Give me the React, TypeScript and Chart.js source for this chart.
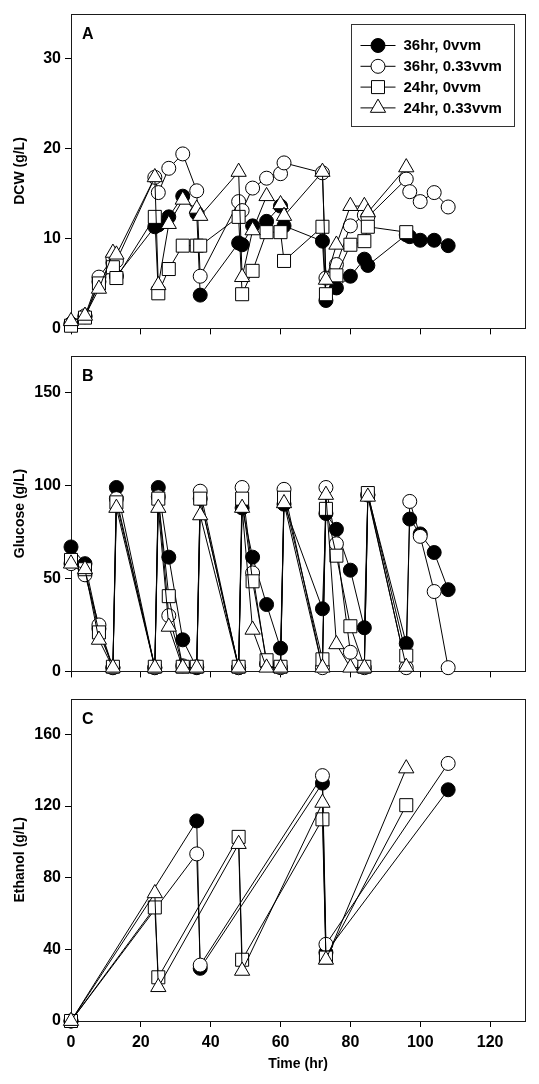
import React, { useEffect, useRef } from 'react';
import { Chart, registerables } from 'chart.js';

Chart.register(...registerables);

// ---------------- DATA ----------------
const seriesLabels = ['36hr, 0vvm', '36hr, 0.33vvm', '24hr, 0vvm', '24hr, 0.33vvm'];

const xTicks = [0, 20, 40, 60, 80, 100, 120];
const yTicksDCW = [0, 10, 20, 30];
const yTicksGlucose = [0, 50, 100, 150];
const yTicksEthanol = [0, 40, 80, 120, 160];

// sampling times (hr)
const time36 = [0, 4, 8, 12, 13, 24, 25, 28, 32, 36, 37, 48, 49, 52, 56, 60, 61, 72, 73, 76, 80, 84, 85, 96, 97, 100, 104, 108];
const time24 = [0, 4, 8, 12, 13, 24, 25, 28, 32, 36, 37, 48, 49, 52, 56, 60, 61, 72, 73, 76, 80, 84, 85, 96];
const timeEth36 = [0, 36, 37, 72, 73, 108];
const timeEth24 = [0, 24, 25, 48, 49, 72, 73, 96];

// A: DCW (g/L)
const dcw36hr0 = [0.5, 1.3, 5.2, 7.3, 5.8, 11.3, 11.5, 12.4, 14.7, 12.8, 3.7, 9.5, 9.3, 11.4, 11.9, 13.6, 11.4, 9.7, 3.1, 4.5, 5.8, 7.7, 7.0, 10.4, 10.2, 9.8, 9.8, 9.2];
const dcw36hr033 = [0.5, 1.4, 5.7, 7.8, 7.5, 16.8, 15.1, 17.8, 19.4, 15.3, 5.8, 14.1, 13.1, 15.6, 16.7, 17.2, 18.4, 17.3, 5.6, 7.1, 11.4, 12.6, 12.4, 16.6, 15.2, 14.1, 15.1, 13.5];
const dcw24hr0 = [0.3, 1.2, 5.0, 6.8, 5.6, 12.4, 3.9, 6.6, 9.2, 9.2, 9.2, 12.4, 3.8, 6.4, 10.7, 10.7, 7.5, 11.3, 3.8, 5.9, 9.3, 9.7, 11.3, 10.7];
const dcw24hr033 = [0.8, 1.4, 4.4, 8.4, 8.2, 16.8, 4.8, 11.6, 14.3, 13.3, 12.5, 17.4, 5.7, 10.9, 14.7, 13.8, 12.5, 17.4, 5.4, 9.3, 13.6, 13.6, 12.9, 17.9];

// B: Glucose (g/L)
const glu36hr0 = [67, 58, 23, 2, 99, 2, 99, 61.5, 17, 2, 93, 2, 88, 61.5, 36, 12.5, 90, 33.7, 85, 76.5, 54.5, 23.5, 95, 15, 82, 74, 64, 44];
const glu36hr033 = [58, 52, 25, 2, 93, 2, 94, 30, 3, 2.5, 97, 2, 99, 53, 4, 2, 98, 2, 99, 68.7, 10.3, 2, 95, 2, 91.5, 72.7, 43, 2];
const glu24hr0 = [60, 55, 21, 2.5, 91, 2.5, 93, 40.5, 2.5, 2.5, 93, 2.5, 93, 48.5, 6, 2.5, 93.5, 6.5, 87.5, 62.3, 24.3, 2.5, 96, 8.5];
const glu24hr033 = [58, 55, 17, 2, 88, 2, 88, 24, 2, 2, 84, 2, 88, 22.4, 2, 2, 90.5, 2, 95, 14.6, 2, 2, 94, 2.4];

// C: Ethanol (g/L)
const eth36hr0 = [0, 111.7, 29.4, 132.8, 38.2, 129.1];
const eth36hr033 = [0, 93.3, 31.2, 137, 42.8, 143.8];
const eth24hr0 = [0, 63.4, 24.4, 102.8, 34.2, 112.6, 35.4, 120.5];
const eth24hr033 = [0, 71.3, 18.9, 98.8, 28, 121.8, 34.2, 141];

// ---------------- STYLE ----------------
const FONT = "'Liberation Sans', Arial, Helvetica, sans-serif";
const markerStyles = [
  { pointStyle: 'circle', fill: '#000000', radius: 7 },
  { pointStyle: 'circle', fill: '#ffffff', radius: 7 },
  { pointStyle: 'rect', fill: '#ffffff', radius: 9.2 },
  { pointStyle: 'triangle', fill: '#ffffff', radius: 8.8 },
];

type SeriesData = { t: number[]; v: number[] };
type PanelSpec = {
  letter: string;
  title: string;
  yMax: number;
  yTicks: number[];
  series: SeriesData[];
  top: number;
  height: number;
  padTop: number;
  xHeight: number;
  showX: boolean;
  legend: boolean;
};

const panels: PanelSpec[] = [
  {
    letter: 'A', title: 'DCW (g/L)', yMax: 35, yTicks: yTicksDCW,
    series: [
      { t: time36, v: dcw36hr0 }, { t: time36, v: dcw36hr033 },
      { t: time24, v: dcw24hr0 }, { t: time24, v: dcw24hr033 },
    ],
    top: 0, height: 342, padTop: 8, xHeight: 7, showX: false, legend: true,
  },
  {
    letter: 'B', title: 'Glucose (g/L)', yMax: 170, yTicks: yTicksGlucose,
    series: [
      { t: time36, v: glu36hr0 }, { t: time36, v: glu36hr033 },
      { t: time24, v: glu24hr0 }, { t: time24, v: glu24hr033 },
    ],
    top: 342, height: 343, padTop: 10, xHeight: 7, showX: false, legend: false,
  },
  {
    letter: 'C', title: 'Ethanol (g/L)', yMax: 180, yTicks: yTicksEthanol,
    series: [
      { t: timeEth36, v: eth36hr0 }, { t: timeEth36, v: eth36hr033 },
      { t: timeEth24, v: eth24hr0 }, { t: timeEth24, v: eth24hr033 },
    ],
    top: 685, height: 399, padTop: 9, xHeight: 63, showX: true, legend: false,
  },
];

function drawMarker(ctx: CanvasRenderingContext2D, style: string, x: number, y: number, r: number, fill: string) {
  ctx.beginPath();
  if (style === 'circle') {
    ctx.arc(x, y, r, 0, Math.PI * 2);
  } else if (style === 'rect') {
    const s = Math.SQRT1_2 * r;
    ctx.rect(x - s, y - s, 2 * s, 2 * s);
  } else {
    const a = (2 * Math.PI) / 3;
    ctx.moveTo(x, y - r);
    ctx.lineTo(x + Math.sin(a) * r, y - Math.cos(a) * r);
    ctx.lineTo(x + Math.sin(2 * a) * r, y - Math.cos(2 * a) * r);
  }
  ctx.closePath();
  ctx.fillStyle = fill;
  ctx.fill();
  ctx.lineWidth = 1;
  ctx.strokeStyle = '#000';
  ctx.stroke();
}

function makePanelPlugin(p: PanelSpec) {
  return {
    id: 'panelDecor' + p.letter,
    beforeDatasetsDraw(chart: any) {
      const { ctx, chartArea } = chart;
      ctx.save();
      ctx.strokeStyle = '#1a1a1a';
      ctx.lineWidth = 1;
      const l = Math.round(chartArea.left) + 0.5;
      const t = Math.round(chartArea.top) + 0.5;
      const r = Math.round(chartArea.right) + 0.5;
      const b = Math.round(chartArea.bottom) + 0.5;
      ctx.strokeRect(l, t, r - l, b - t);
      ctx.fillStyle = '#000';
      ctx.font = `bold 16px ${FONT}`;
      ctx.textBaseline = 'middle';
      ctx.textAlign = 'left';
      ctx.fillText(p.letter, chartArea.left + 11, chartArea.top + 21);
      ctx.restore();
    },
    afterDatasetsDraw(chart: any) {
      if (!p.legend) return;
      const { ctx, chartArea } = chart;
      ctx.save();
      const bx = Math.round(chartArea.right - 174) + 0.5;
      const by = Math.round(chartArea.top + 10) + 0.5;
      const bw = 163;
      const bh = 102;
      ctx.fillStyle = '#fff';
      ctx.fillRect(bx, by, bw, bh);
      ctx.strokeStyle = '#333';
      ctx.lineWidth = 1;
      ctx.strokeRect(bx, by, bw, bh);
      seriesLabels.forEach((label, i) => {
        const y = by + 21 + i * 20.8;
        ctx.beginPath();
        ctx.moveTo(bx + 9, y);
        ctx.lineTo(bx + 44, y);
        ctx.strokeStyle = '#000';
        ctx.lineWidth = 1;
        ctx.stroke();
        const m = markerStyles[i];
        drawMarker(ctx, m.pointStyle, bx + 26.5, y, m.radius, m.fill);
        ctx.fillStyle = '#000';
        ctx.font = `bold 15px ${FONT}`;
        ctx.textBaseline = 'middle';
        ctx.textAlign = 'left';
        ctx.fillText(label, bx + 52, y + 0.5);
      });
      ctx.restore();
    },
  };
}

function buildConfig(p: PanelSpec): any {
  return {
    type: 'scatter',
    data: {
      datasets: p.series.map((s, i) => ({
        label: seriesLabels[i],
        data: s.t.map((t, k) => ({ x: t, y: s.v[k] })),
        showLine: true,
        borderColor: '#000',
        borderWidth: 1,
        backgroundColor: markerStyles[i].fill,
        pointStyle: markerStyles[i].pointStyle,
        pointRadius: markerStyles[i].radius,
        pointHoverRadius: markerStyles[i].radius,
        pointBackgroundColor: markerStyles[i].fill,
        pointBorderColor: '#000',
        pointBorderWidth: 1,
        order: 4 - i,
        clip: false,
        tension: 0,
      })),
    },
    options: {
      animation: false,
      responsive: false,
      maintainAspectRatio: false,
      devicePixelRatio: 1,
      events: [],
      layout: { padding: { left: 0, right: 14, top: p.padTop, bottom: 0 } },
      plugins: { legend: { display: false }, tooltip: { enabled: false } },
      scales: {
        x: {
          type: 'linear',
          min: 0,
          max: 130,
          afterBuildTicks: (axis: any) => {
            axis.ticks = xTicks.map((v) => ({ value: v }));
          },
          afterFit: (axis: any) => {
            axis.height = p.xHeight;
          },
          grid: { display: true, drawOnChartArea: false, drawTicks: true, tickLength: 6, color: '#000', lineWidth: 1 },
          border: { display: false },
          ticks: {
            display: p.showX,
            padding: 6,
            maxRotation: 0,
            autoSkip: false,
            color: '#000',
            font: { family: FONT, size: 16, weight: 'bold' },
          },
          title: {
            display: p.showX,
            text: 'Time (hr)',
            color: '#000',
            padding: { top: 0, bottom: 11 },
            font: { family: FONT, size: 14, weight: 'bold' },
          },
        },
        y: {
          type: 'linear',
          min: 0,
          max: p.yMax,
          afterBuildTicks: (axis: any) => {
            axis.ticks = p.yTicks.map((v) => ({ value: v }));
          },
          afterFit: (axis: any) => {
            axis.width = 71;
          },
          grid: { display: true, drawOnChartArea: false, drawTicks: true, tickLength: 6, color: '#000', lineWidth: 1 },
          border: { display: false },
          ticks: {
            padding: 4,
            autoSkip: false,
            color: '#000',
            font: { family: FONT, size: 16, weight: 'bold' },
          },
          title: {
            display: true,
            text: p.title,
            color: '#000',
            padding: { top: 12, bottom: 0 },
            font: { family: FONT, size: 14, weight: 'bold' },
          },
        },
      },
    },
    plugins: [makePanelPlugin(p)],
  };
}

function Panel({ spec }: { spec: PanelSpec }) {
  const ref = useRef<HTMLCanvasElement | null>(null);
  useEffect(() => {
    if (!ref.current) return;
    const chart = new Chart(ref.current, buildConfig(spec));
    return () => chart.destroy();
  }, [spec]);
  return (
    <canvas
      ref={ref}
      width={539}
      height={spec.height}
      style={{ position: 'absolute', left: 0, top: spec.top, width: 539, height: spec.height, display: 'block' }}
    />
  );
}

export default function App() {
  return (
    <div style={{ position: 'absolute', left: 0, top: 0, width: 539, height: 1084, background: '#fff', overflow: 'hidden' }}>
      {panels.map((p) => (
        <Panel key={p.letter} spec={p} />
      ))}
    </div>
  );
}
